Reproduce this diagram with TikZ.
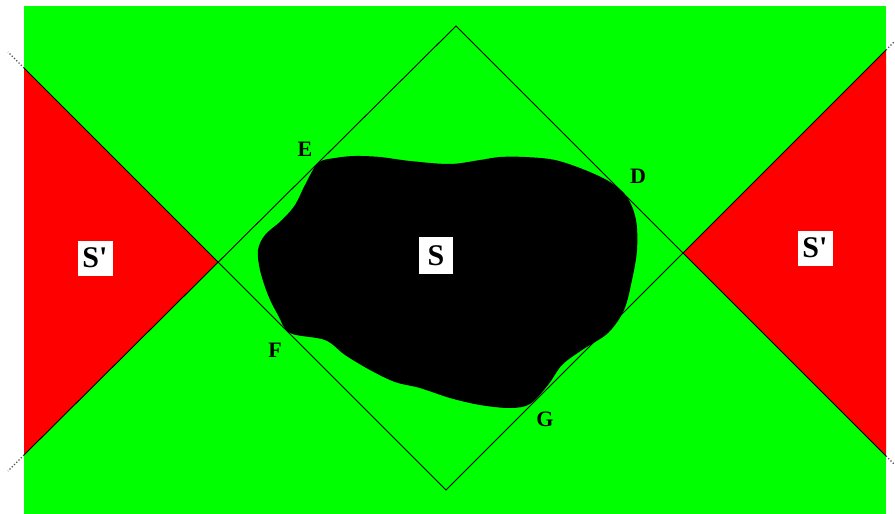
\documentclass[tikz,border=0pt]{standalone}
\usepackage{fontspec}
\setmainfont{Liberation Serif}
\usetikzlibrary{calc}

\definecolor{fieldgreen}{RGB}{0,255,0}
\definecolor{zonered}{RGB}{255,0,0}

\tikzset{
  edge/.style={black, line width=0.9pt},
  edgeext/.style={black!70, line width=1.2pt, dotted},
  ptlabel/.style={font=\fontsize{22}{22}\selectfont\bfseries, inner sep=0pt},
  setlabel/.style={fill=white, inner sep=0pt, minimum width=35pt, minimum height=35pt,
                   font=\fontsize{30}{30}\selectfont\bfseries}
}

\begin{document}
\begin{tikzpicture}[x=1pt,y=-1pt]
  \useasboundingbox (0,0) rectangle (895,514);
  % square and its corners
  \coordinate (top) at (456,26);
  \coordinate (right) at (683,253);
  \coordinate (bottom) at (446,490);
  \coordinate (left) at (218,262);
  % where the sides leave the green field
  \coordinate (lt) at (24,68);
  \coordinate (lb) at (24,455);
  \coordinate (rt) at (886,50);
  \coordinate (rb) at (886,456);

  \fill[fieldgreen] (24,6) rectangle (886,514);
  \fill[zonered] (lt) -- (left) -- (lb) -- cycle;
  \fill[zonered] (rt) -- (right) -- (rb) -- cycle;

  % the set S
  \fill[black] plot[smooth cycle, tension=0.55] coordinates {
    (318,163) (335,158) (355,156) (380,157) (410,161) (450,164) (480,160)
    (500,157) (525,157) (555,160) (585,170) (610,182) (627,197) (636,220)
    (637,250) (632,280) (624,310) (608,333) (582,350) (562,365) (548,385)
    (530,404) (510,408) (480,405) (450,398) (420,388) (395,382) (370,370)
    (345,355) (325,340) (290,333) (278,315) (268,295) (260,270) (258,250)
    (265,235) (282,220) (295,205) (305,185)};

  \draw[edge] (lt) -- (bottom) -- (rt);
  \draw[edge] (lb) -- (top) -- (rb);
  \draw[edgeext] (lt) -- (8,52);
  \draw[edgeext] (lb) -- (8,471);
  \draw[edgeext] (rt) -- (895,41);
  \draw[edgeext] (rb) -- (895,465);

  \node[ptlabel] (E) at (305,149) {E};
  \node[ptlabel] (D) at (638,176) {D};
  \node[ptlabel] (F) at (275,350) {F};
  \node[ptlabel] (G) at (545,419) {G};

  \node[setlabel] (Sl) at (95,258) {S\textquotesingle};
  \node[setlabel, minimum width=34pt, minimum height=37pt] (S) at (436,255.5) {S};
  \node[setlabel] (Sr) at (815,248) {S\textquotesingle};
\end{tikzpicture}
\end{document}
